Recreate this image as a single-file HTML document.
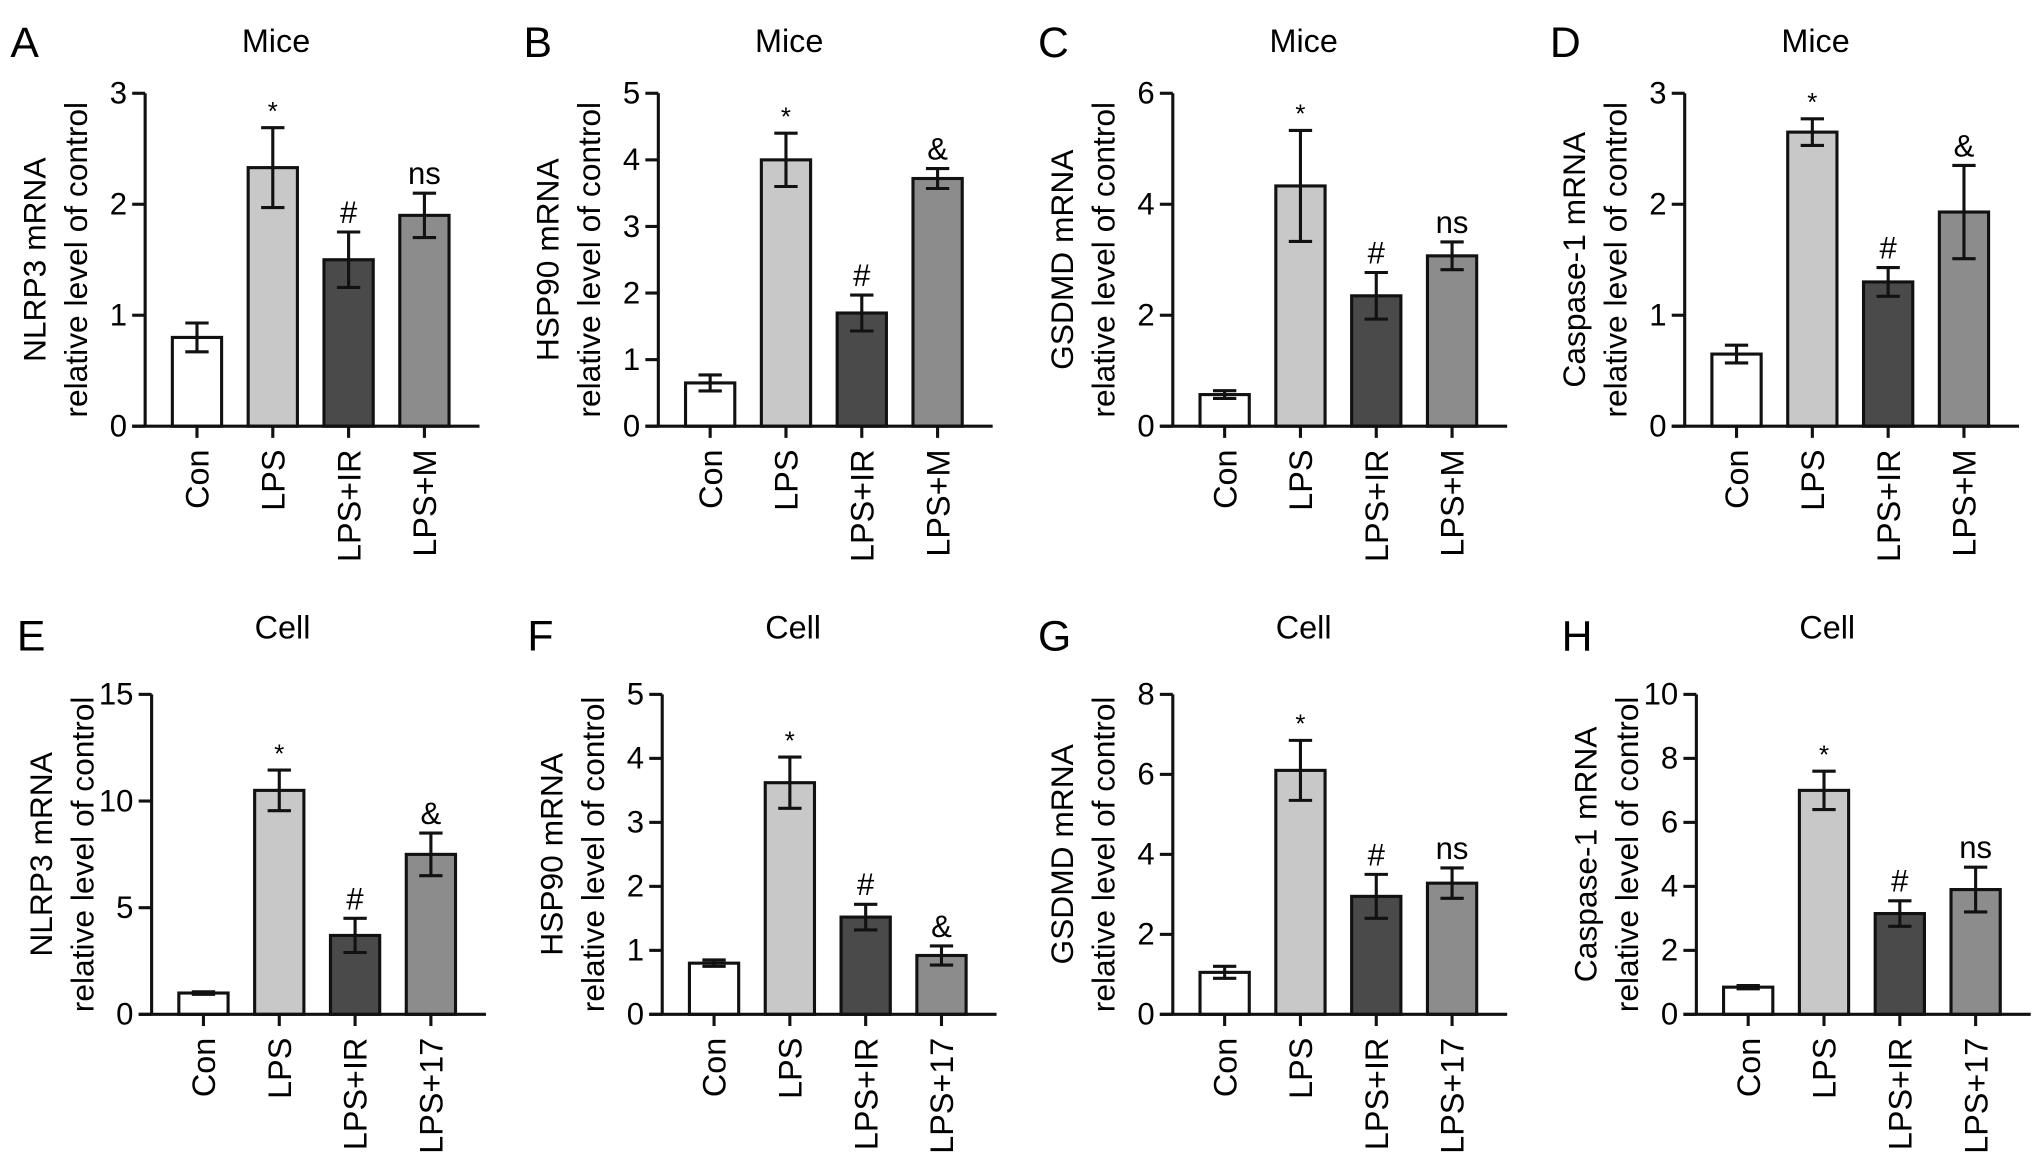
<!DOCTYPE html>
<html><head><meta charset="utf-8"><style>
html,body{margin:0;padding:0;background:#fff;}
svg{display:block;font-family:"Liberation Sans",Arial,sans-serif;}
</style></head><body>
<svg id="fig" width="2032" height="1175" viewBox="0 0 1568 907" preserveAspectRatio="none" xmlns="http://www.w3.org/2000/svg"></svg>
<script>
const panelLetters = ["A","B","C","D","E","F","G","H"];
const panelTitles = ["Mice","Mice","Mice","Mice","Cell","Cell","Cell","Cell"];
const genes = ["NLRP3","HSP90","GSDMD","Caspase-1","NLRP3","HSP90","GSDMD","Caspase-1"];
const catsMice = ["Con","LPS","LPS+IR","LPS+M"];
const catsCell = ["Con","LPS","LPS+IR","LPS+17"];
const yMax = [3,5,6,3,15,5,8,10];
const yStep = [1,1,2,1,5,1,2,2];
const valA = [0.8,2.33,1.5,1.9];      const errA = [0.13,0.36,0.25,0.2];
const valB = [0.65,4.0,1.7,3.72];     const errB = [0.12,0.4,0.27,0.15];
const valC = [0.57,4.33,2.35,3.07];   const errC = [0.07,1.0,0.42,0.25];
const valD = [0.65,2.65,1.3,1.93];    const errD = [0.08,0.12,0.13,0.42];
const valE = [1.0,10.5,3.7,7.5];      const errE = [0.06,0.95,0.8,1.0];
const valF = [0.8,3.62,1.52,0.92];    const errF = [0.05,0.4,0.2,0.15];
const valG = [1.05,6.1,2.95,3.28];    const errG = [0.15,0.75,0.55,0.38];
const valH = [0.85,7.0,3.15,3.9];     const errH = [0.05,0.6,0.4,0.7];
const sigA = ["","*","#","ns"]; const sigB = ["","*","#","&"];
const sigC = ["","*","#","ns"]; const sigD = ["","*","#","&"];
const sigE = ["","*","#","&"]; const sigF = ["","*","#","&"];
const sigG = ["","*","#","ns"]; const sigH = ["","*","#","ns"];

const vals=[valA,valB,valC,valD,valE,valF,valG,valH];
const errs=[errA,errB,errC,errD,errE,errF,errG,errH];
const sigs=[sigA,sigB,sigC,sigD,sigE,sigF,sigG,sigH];
const fills=["#ffffff","#c8c8c8","#4a4a4a","#8c8c8c"];
const axisX=[112,508,905,1300,117,511,905,1309];
const NS="http://www.w3.org/2000/svg";
const svg=document.getElementById('fig');
function mk(tag,attrs,parent){const e=document.createElementNS(NS,tag);for(const k in attrs)e.setAttribute(k,attrs[k]);(parent||svg).appendChild(e);return e;}
function txt(s,attrs,parent){const e=mk('text',attrs,parent);e.textContent=s;return e;}

for(let p=0;p<8;p++){
  const row=p<4?0:1;
  const ax=axisX[p];
  const y0=row?783:329, yT=row?536:72;
  const ys=v=>y0-(v/yMax[p])*(y0-yT);
  const xs=i=>ax+40+i*58.5;
  const cats=row?catsCell:catsMice;
  const g=mk('g',{});
  
  
  let t=txt(panelLetters[p],{x:ax-104,y:row?502:44,'font-size':33},g);
  
  
  t=txt(panelTitles[p],{x:ax+101,y:row?493:40,'font-size':25,'text-anchor':'middle'},g);
  
  
  const cy=(y0+yT)/2;
  t=txt(genes[p]+' mRNA',{x:0,y:0,'font-size':24.5,'text-anchor':'middle',transform:`translate(${ax-77},${cy}) rotate(-90)`},g);
  
  
  t=txt('relative level of control',{x:0,y:0,'font-size':24.5,'text-anchor':'middle',transform:`translate(${ax-45},${cy}) rotate(-90)`},g);
  
  
  for(let i=0;i<4;i++){
    const v=vals[p][i],e=errs[p][i],cx=xs(i);
    const r=mk('rect',{x:cx-19,y:ys(v),width:38,height:y0-ys(v),fill:fills[i],stroke:'#111','stroke-width':2.4},g);
    
    
    const eb=mk('path',{d:`M${cx},${ys(v-e)}V${ys(v+e)}M${cx-9},${ys(v+e)}H${cx+9}M${cx-9},${ys(v-e)}H${cx+9}`,stroke:'#111','stroke-width':2.4,fill:'none'},g);
    
    
    if(sigs[p][i]){
      const s=sigs[p][i];
      const sm=txt(s,{x:cx,y:ys(v+e)-(s==='*'?6:7),'font-size':s==='*'?20:24,'text-anchor':'middle'},g);
      
      
    }
    const tk=mk('line',{x1:cx,x2:cx,y1:y0,y2:y0+9,stroke:'#111','stroke-width':2.4},g);
    
    
    const cl=txt(cats[i],{x:0,y:0,'font-size':25,'text-anchor':'end',transform:`translate(${cx+9},${y0+18}) rotate(-90)`},g);
    
    
  }
  const ya=mk('path',{d:`M${ax},${yT}V${y0}`,stroke:'#111','stroke-width':2.4,fill:'none'},g);
  
  
  const xa=mk('path',{d:`M${ax-10},${y0}H${ax+258}`,stroke:'#111','stroke-width':2.4,fill:'none'},g);
  
  
  for(let v=0;v<=yMax[p];v+=yStep[p]){
    const tk=mk('line',{x1:ax-10,x2:ax,y1:ys(v),y2:ys(v),stroke:'#111','stroke-width':2.4},g);
    
    
    const tl=txt(String(v),{x:ax-14,y:ys(v)+8,'font-size':24,'text-anchor':'end'},g);
    
    
  }
}
</script>
</body></html>
